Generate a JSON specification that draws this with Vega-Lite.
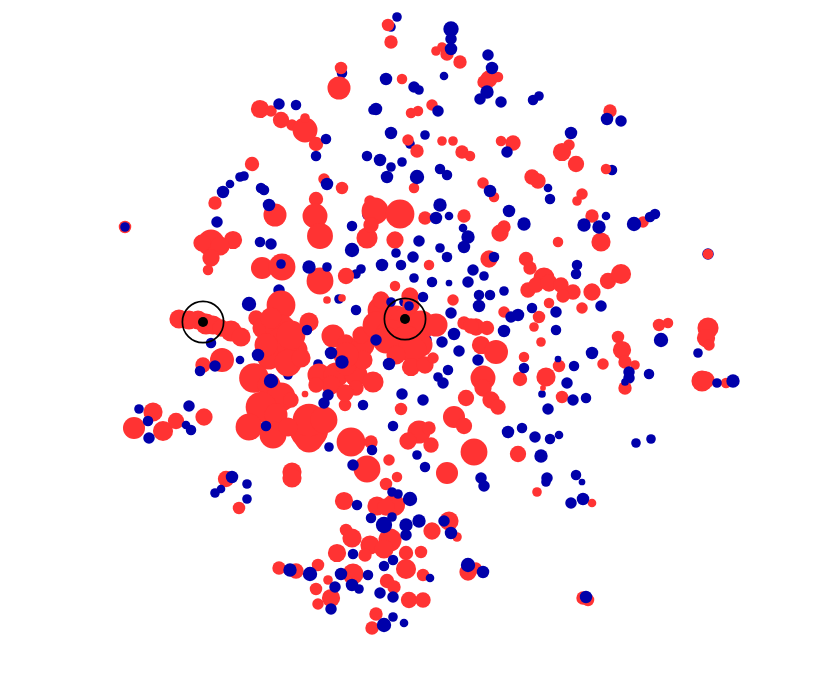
{"$schema":"https://vega.github.io/schema/vega-lite/v6.json","width":830,"height":675,"padding":0,"autosize":{"type":"none"},"background":"white","config":{"view":{"stroke":null}},
"layer":[
{"data":{"values":[
{"x":390,"y":27,"r":5,"g":"b"},{"x":341,"y":73,"r":5.5,"g":"b"},{"x":409,"y":144,"r":5,"g":"b"},{"x":366,"y":215,"r":5,"g":"b"},{"x":707,"y":254,"r":6,"g":"b"},{"x":611,"y":170,"r":5.5,"g":"b"},{"x":287,"y":375,"r":5,"g":"b"},{"x":355,"y":274,"r":5,"g":"b"},{"x":317,"y":364,"r":5,"g":"b"},{"x":278,"y":290,"r":6,"g":"b"},{"x":606,"y":119,"r":4,"g":"b"},{"x":541,"y":394,"r":4,"g":"b"},{"x":338,"y":299,"r":5,"g":"b"},{"x":425,"y":340,"r":6,"g":"b"},{"x":403,"y":302,"r":5,"g":"b"},{"x":628,"y":378,"r":6,"g":"b"},
{"x":124,"y":227,"r":6.5,"g":"a"},{"x":387,"y":25,"r":6.5,"g":"a"},{"x":390,"y":42,"r":7,"g":"a"},{"x":340,"y":68,"r":6.5,"g":"a"},{"x":338,"y":88,"r":12,"g":"a"},{"x":401,"y":79,"r":5.5,"g":"a"},{"x":259,"y":109,"r":9.5,"g":"a"},{"x":270,"y":111,"r":6,"g":"a"},{"x":280,"y":120,"r":8.5,"g":"a"},{"x":291,"y":125,"r":6,"g":"a"},{"x":304,"y":130,"r":13,"g":"a"},{"x":304,"y":118,"r":5,"g":"a"},{"x":315,"y":144,"r":7.5,"g":"a"},{"x":407,"y":140,"r":6,"g":"a"},{"x":416,"y":151,"r":7,"g":"a"},{"x":410,"y":113,"r":5.5,"g":"a"},{"x":417,"y":111,"r":5.5,"g":"a"},{"x":251,"y":164,"r":7.5,"g":"a"},{"x":214,"y":203,"r":7,"g":"a"},{"x":274,"y":215,"r":12,"g":"a"},{"x":323,"y":179,"r":6,"g":"a"},{"x":341,"y":188,"r":6.5,"g":"a"},{"x":413,"y":188,"r":5.5,"g":"a"},{"x":315,"y":199,"r":7.5,"g":"a"},{"x":314,"y":216,"r":13,"g":"a"},{"x":319,"y":236,"r":13.5,"g":"a"},{"x":369,"y":201,"r":6,"g":"a"},{"x":374,"y":211,"r":14,"g":"a"},{"x":399,"y":214,"r":15,"g":"a"},{"x":366,"y":238,"r":11,"g":"a"},{"x":370,"y":225,"r":8,"g":"a"},{"x":394,"y":240,"r":9,"g":"a"},{"x":424,"y":218,"r":7,"g":"a"},
{"x":210,"y":243,"r":14,"g":"a"},{"x":232,"y":240,"r":9.5,"g":"a"},{"x":201,"y":243,"r":9,"g":"a"},{"x":219,"y":246,"r":10,"g":"a"},{"x":210,"y":258,"r":9,"g":"a"},{"x":207,"y":270,"r":5.5,"g":"a"},
{"x":261,"y":268,"r":11.5,"g":"a"},{"x":281,"y":267,"r":14,"g":"a"},{"x":319,"y":281,"r":14,"g":"a"},{"x":345,"y":276,"r":8.5,"g":"a"},{"x":428,"y":265,"r":5.5,"g":"a"},{"x":394,"y":286,"r":5.5,"g":"a"},{"x":409,"y":296,"r":9,"g":"a"},{"x":341,"y":298,"r":4,"g":"a"},{"x":326,"y":300,"r":4,"g":"a"},
{"x":280,"y":305,"r":15,"g":"a"},{"x":255,"y":318,"r":8,"g":"a"},{"x":308,"y":322,"r":10,"g":"a"},{"x":262,"y":328,"r":11,"g":"a"},{"x":280,"y":330,"r":16,"g":"a"},{"x":280,"y":345,"r":18,"g":"a"},{"x":268,"y":358,"r":12,"g":"a"},{"x":295,"y":350,"r":12,"g":"a"},{"x":287,"y":363,"r":14,"g":"a"},{"x":300,"y":358,"r":10,"g":"a"},{"x":290,"y":335,"r":15,"g":"a"},{"x":265,"y":345,"r":12,"g":"a"},{"x":270,"y":318,"r":11,"g":"a"},
{"x":178,"y":319,"r":10,"g":"a"},{"x":197,"y":320,"r":10,"g":"a"},{"x":188,"y":320,"r":10,"g":"a"},{"x":205,"y":324,"r":11,"g":"a"},{"x":212,"y":325,"r":10,"g":"a"},{"x":220,"y":328,"r":9,"g":"a"},{"x":230,"y":331,"r":11,"g":"a"},{"x":240,"y":337,"r":10,"g":"a"},{"x":202,"y":365,"r":8,"g":"a"},{"x":221,"y":360,"r":12.5,"g":"a"},
{"x":253,"y":378,"r":15.5,"g":"a"},{"x":268,"y":385,"r":12,"g":"a"},{"x":280,"y":397,"r":15,"g":"a"},{"x":290,"y":400,"r":8,"g":"a"},{"x":260,"y":407,"r":16,"g":"a"},{"x":275,"y":415,"r":12,"g":"a"},{"x":248,"y":427,"r":14,"g":"a"},{"x":272,"y":435,"r":14,"g":"a"},{"x":308,"y":430,"r":20,"g":"a"},{"x":308,"y":438,"r":15,"g":"a"},{"x":308,"y":420,"r":17,"g":"a"},{"x":323,"y":420,"r":14,"g":"a"},{"x":287,"y":427,"r":10,"g":"a"},{"x":350,"y":442,"r":15,"g":"a"},{"x":370,"y":442,"r":7,"g":"a"},{"x":366,"y":469,"r":14,"g":"a"},{"x":388,"y":460,"r":6,"g":"a"},{"x":396,"y":477,"r":5.5,"g":"a"},
{"x":133,"y":428,"r":11.5,"g":"a"},{"x":152,"y":412,"r":10,"g":"a"},{"x":162,"y":431,"r":10.5,"g":"a"},{"x":175,"y":421,"r":8.5,"g":"a"},{"x":203,"y":417,"r":9,"g":"a"},
{"x":332,"y":336,"r":12,"g":"a"},{"x":345,"y":343,"r":9,"g":"a"},{"x":362,"y":345,"r":12,"g":"a"},{"x":360,"y":335,"r":9,"g":"a"},{"x":318,"y":375,"r":12,"g":"a"},{"x":335,"y":375,"r":13,"g":"a"},{"x":355,"y":375,"r":12,"g":"a"},{"x":372,"y":382,"r":11,"g":"a"},{"x":345,"y":365,"r":11,"g":"a"},{"x":362,"y":360,"r":10,"g":"a"},{"x":345,"y":355,"r":13,"g":"a"},{"x":330,"y":385,"r":10,"g":"a"},{"x":355,"y":388,"r":8,"g":"a"},{"x":315,"y":385,"r":8,"g":"a"},{"x":344,"y":405,"r":6.5,"g":"a"},{"x":344,"y":393,"r":9,"g":"a"},{"x":304,"y":394,"r":3.5,"g":"a"},
{"x":380,"y":310,"r":14,"g":"a"},{"x":380,"y":300,"r":9,"g":"a"},{"x":375,"y":325,"r":14,"g":"a"},{"x":395,"y":320,"r":15,"g":"a"},{"x":405,"y":325,"r":18,"g":"a"},{"x":390,"y":335,"r":16,"g":"a"},{"x":420,"y":325,"r":15,"g":"a"},{"x":405,"y":340,"r":15,"g":"a"},{"x":385,"y":340,"r":14,"g":"a"},{"x":420,"y":345,"r":12,"g":"a"},{"x":410,"y":305,"r":9,"g":"a"},{"x":435,"y":325,"r":12,"g":"a"},{"x":412,"y":350,"r":14,"g":"a"},{"x":395,"y":355,"r":10,"g":"a"},{"x":410,"y":367,"r":9.5,"g":"a"},{"x":424,"y":365,"r":9,"g":"a"},{"x":432,"y":358,"r":6,"g":"a"},{"x":400,"y":409,"r":6.5,"g":"a"},{"x":418,"y":432,"r":12,"g":"a"},{"x":407,"y":441,"r":9,"g":"a"},{"x":430,"y":445,"r":8,"g":"a"},{"x":428,"y":428,"r":7,"g":"a"},{"x":453,"y":417,"r":11.5,"g":"a"},{"x":463,"y":426,"r":8.5,"g":"a"},{"x":473,"y":452,"r":14,"g":"a"},{"x":446,"y":473,"r":11.5,"g":"a"},
{"x":499,"y":233,"r":9,"g":"a"},{"x":503,"y":227,"r":7,"g":"a"},{"x":557,"y":242,"r":5.5,"g":"a"},{"x":600,"y":242,"r":10,"g":"a"},{"x":488,"y":259,"r":9,"g":"a"},{"x":525,"y":259,"r":7.5,"g":"a"},{"x":529,"y":268,"r":7,"g":"a"},{"x":543,"y":278,"r":11,"g":"a"},{"x":527,"y":290,"r":8,"g":"a"},{"x":535,"y":285,"r":8,"g":"a"},{"x":548,"y":283,"r":9,"g":"a"},{"x":560,"y":285,"r":8,"g":"a"},{"x":572,"y":292,"r":8,"g":"a"},{"x":562,"y":296,"r":7,"g":"a"},{"x":548,"y":303,"r":5.5,"g":"a"},{"x":591,"y":292,"r":9,"g":"a"},{"x":607,"y":281,"r":8.5,"g":"a"},{"x":620,"y":274,"r":10.5,"g":"a"},{"x":581,"y":308,"r":6,"g":"a"},{"x":707,"y":254,"r":5.5,"g":"a"},
{"x":452,"y":300,"r":6,"g":"a"},{"x":463,"y":323,"r":7,"g":"a"},{"x":475,"y":327,"r":9,"g":"a"},{"x":470,"y":326,"r":8,"g":"a"},{"x":486,"y":328,"r":7.5,"g":"a"},{"x":503,"y":312,"r":6,"g":"a"},{"x":538,"y":317,"r":6.5,"g":"a"},{"x":533,"y":327,"r":5,"g":"a"},{"x":540,"y":342,"r":5,"g":"a"},{"x":480,"y":345,"r":9.5,"g":"a"},{"x":495,"y":352,"r":12.5,"g":"a"},{"x":523,"y":357,"r":5.5,"g":"a"},{"x":519,"y":379,"r":7.5,"g":"a"},{"x":558,"y":366,"r":6.5,"g":"a"},{"x":545,"y":377,"r":10,"g":"a"},{"x":602,"y":364,"r":6,"g":"a"},{"x":542,"y":388,"r":3,"g":"a"},{"x":561,"y":397,"r":6.5,"g":"a"},{"x":617,"y":337,"r":6.5,"g":"a"},{"x":621,"y":350,"r":9.5,"g":"a"},{"x":624,"y":362,"r":7,"g":"a"},{"x":634,"y":365,"r":5,"g":"a"},{"x":658,"y":325,"r":6.5,"g":"a"},{"x":667,"y":323,"r":5.5,"g":"a"},{"x":707,"y":328,"r":11,"g":"a"},{"x":705,"y":338,"r":9.5,"g":"a"},{"x":708,"y":345,"r":6,"g":"a"},{"x":701,"y":381,"r":11,"g":"a"},{"x":705,"y":380,"r":9,"g":"a"},{"x":725,"y":383,"r":5.5,"g":"a"},
{"x":482,"y":378,"r":13,"g":"a"},{"x":482,"y":388,"r":9,"g":"a"},{"x":465,"y":398,"r":8.5,"g":"a"},{"x":490,"y":400,"r":9,"g":"a"},{"x":497,"y":407,"r":8,"g":"a"},{"x":517,"y":454,"r":8.5,"g":"a"},
{"x":225,"y":479,"r":8.5,"g":"a"},{"x":238,"y":508,"r":6.5,"g":"a"},{"x":291,"y":472,"r":10,"g":"a"},{"x":291,"y":478,"r":10,"g":"a"},{"x":385,"y":484,"r":6.5,"g":"a"},{"x":536,"y":492,"r":5,"g":"a"},{"x":591,"y":503,"r":4.5,"g":"a"},{"x":343,"y":501,"r":9.5,"g":"a"},{"x":376,"y":506,"r":10,"g":"a"},{"x":393,"y":505,"r":11.5,"g":"a"},{"x":385,"y":507,"r":9,"g":"a"},{"x":431,"y":531,"r":9,"g":"a"},{"x":448,"y":521,"r":10,"g":"a"},{"x":456,"y":537,"r":5,"g":"a"},{"x":345,"y":530,"r":6.5,"g":"a"},{"x":351,"y":538,"r":10,"g":"a"},{"x":369,"y":545,"r":10,"g":"a"},{"x":389,"y":540,"r":12,"g":"a"},{"x":383,"y":549,"r":10,"g":"a"},{"x":336,"y":553,"r":9.5,"g":"a"},{"x":364,"y":555,"r":7,"g":"a"},{"x":405,"y":553,"r":7.5,"g":"a"},{"x":420,"y":552,"r":6.5,"g":"a"},{"x":405,"y":569,"r":10.5,"g":"a"},{"x":422,"y":575,"r":6.5,"g":"a"},{"x":352,"y":574,"r":11,"g":"a"},{"x":295,"y":571,"r":8,"g":"a"},{"x":278,"y":568,"r":7,"g":"a"},{"x":317,"y":565,"r":6.5,"g":"a"},{"x":327,"y":580,"r":5,"g":"a"},{"x":315,"y":589,"r":6.5,"g":"a"},{"x":330,"y":598,"r":9.5,"g":"a"},{"x":317,"y":604,"r":6,"g":"a"},{"x":386,"y":581,"r":7.5,"g":"a"},{"x":393,"y":587,"r":7,"g":"a"},{"x":408,"y":600,"r":8.5,"g":"a"},{"x":422,"y":600,"r":8,"g":"a"},{"x":375,"y":614,"r":7,"g":"a"},{"x":371,"y":628,"r":7,"g":"a"},{"x":467,"y":572,"r":9,"g":"a"},{"x":475,"y":568,"r":6,"g":"a"},{"x":582,"y":598,"r":7,"g":"a"},{"x":587,"y":600,"r":6.5,"g":"a"},
{"x":435,"y":51,"r":5,"g":"a"},{"x":441,"y":47,"r":5,"g":"a"},{"x":446,"y":54,"r":7,"g":"a"},{"x":459,"y":62,"r":7,"g":"a"},{"x":488,"y":79,"r":9,"g":"a"},{"x":497,"y":77,"r":5.5,"g":"a"},{"x":483,"y":82,"r":7,"g":"a"},{"x":431,"y":105,"r":6,"g":"a"},{"x":609,"y":111,"r":7,"g":"a"},{"x":568,"y":145,"r":6,"g":"a"},{"x":561,"y":152,"r":9.5,"g":"a"},{"x":575,"y":164,"r":8.5,"g":"a"},{"x":605,"y":169,"r":5.5,"g":"a"},{"x":441,"y":141,"r":5,"g":"a"},{"x":452,"y":141,"r":5,"g":"a"},{"x":461,"y":152,"r":7,"g":"a"},{"x":469,"y":156,"r":5.5,"g":"a"},{"x":500,"y":141,"r":5.5,"g":"a"},{"x":512,"y":143,"r":8,"g":"a"},{"x":482,"y":183,"r":6,"g":"a"},{"x":493,"y":197,"r":5.5,"g":"a"},{"x":531,"y":177,"r":8,"g":"a"},{"x":537,"y":181,"r":8,"g":"a"},{"x":581,"y":194,"r":6,"g":"a"},{"x":576,"y":201,"r":5,"g":"a"},{"x":591,"y":216,"r":7,"g":"a"},{"x":463,"y":216,"r":7,"g":"a"},{"x":642,"y":222,"r":6,"g":"a"},
{"x":124,"y":227,"r":5,"g":"b"},{"x":396,"y":17,"r":5,"g":"b"},{"x":385,"y":79,"r":6.5,"g":"b"},{"x":413,"y":87,"r":6,"g":"b"},{"x":418,"y":90,"r":5,"g":"b"},{"x":375,"y":109,"r":6.5,"g":"b"},{"x":372,"y":110,"r":5,"g":"b"},{"x":278,"y":104,"r":6,"g":"b"},{"x":295,"y":105,"r":5.5,"g":"b"},{"x":325,"y":139,"r":5.5,"g":"b"},{"x":315,"y":156,"r":5.5,"g":"b"},{"x":390,"y":133,"r":6.5,"g":"b"},{"x":424,"y":135,"r":5,"g":"b"},{"x":243,"y":176,"r":5,"g":"b"},{"x":239,"y":177,"r":5,"g":"b"},{"x":229,"y":184,"r":4.5,"g":"b"},{"x":222,"y":192,"r":6.5,"g":"b"},{"x":260,"y":188,"r":5.5,"g":"b"},{"x":263,"y":190,"r":5.5,"g":"b"},{"x":268,"y":205,"r":6.5,"g":"b"},{"x":326,"y":184,"r":6.5,"g":"b"},{"x":366,"y":156,"r":5.5,"g":"b"},{"x":379,"y":160,"r":6.5,"g":"b"},{"x":390,"y":167,"r":5,"g":"b"},{"x":401,"y":162,"r":5,"g":"b"},{"x":386,"y":177,"r":6.5,"g":"b"},{"x":416,"y":177,"r":7.5,"g":"b"},{"x":351,"y":226,"r":5.5,"g":"b"},{"x":216,"y":222,"r":6,"g":"b"},
{"x":259,"y":242,"r":5.5,"g":"b"},{"x":270,"y":244,"r":6,"g":"b"},{"x":280,"y":264,"r":5,"g":"b"},{"x":308,"y":267,"r":7,"g":"b"},{"x":326,"y":267,"r":5,"g":"b"},{"x":360,"y":269,"r":5,"g":"b"},{"x":351,"y":250,"r":7.5,"g":"b"},{"x":381,"y":265,"r":6.5,"g":"b"},{"x":400,"y":265,"r":5.5,"g":"b"},{"x":412,"y":257,"r":6,"g":"b"},{"x":413,"y":278,"r":5,"g":"b"},{"x":395,"y":253,"r":5,"g":"b"},{"x":418,"y":241,"r":6,"g":"b"},{"x":422,"y":297,"r":5.5,"g":"b"},{"x":408,"y":306,"r":5,"g":"b"},{"x":390,"y":302,"r":5,"g":"b"},{"x":355,"y":310,"r":5.5,"g":"b"},{"x":248,"y":304,"r":7.5,"g":"b"},{"x":306,"y":330,"r":5.5,"g":"b"},{"x":210,"y":343,"r":5.5,"g":"b"},{"x":214,"y":366,"r":6,"g":"b"},{"x":199,"y":371,"r":5.5,"g":"b"},{"x":239,"y":360,"r":4.5,"g":"b"},{"x":257,"y":355,"r":6.5,"g":"b"},{"x":270,"y":381,"r":7.5,"g":"b"},{"x":265,"y":426,"r":5.5,"g":"b"},{"x":328,"y":447,"r":5,"g":"b"},{"x":371,"y":450,"r":5.5,"g":"b"},{"x":352,"y":465,"r":6,"g":"b"},{"x":147,"y":421,"r":5.5,"g":"b"},{"x":138,"y":409,"r":5,"g":"b"},{"x":148,"y":438,"r":6,"g":"b"},{"x":188,"y":406,"r":6,"g":"b"},{"x":185,"y":425,"r":4.5,"g":"b"},{"x":190,"y":430,"r":5.5,"g":"b"},
{"x":330,"y":353,"r":6.5,"g":"b"},{"x":341,"y":362,"r":7,"g":"b"},{"x":327,"y":395,"r":6,"g":"b"},{"x":323,"y":403,"r":6,"g":"b"},{"x":362,"y":405,"r":5.5,"g":"b"},{"x":375,"y":340,"r":6,"g":"b"},{"x":388,"y":364,"r":6.5,"g":"b"},{"x":401,"y":394,"r":6,"g":"b"},{"x":422,"y":400,"r":6,"g":"b"},{"x":392,"y":426,"r":5.5,"g":"b"},{"x":416,"y":455,"r":5,"g":"b"},{"x":424,"y":467,"r":5.5,"g":"b"},
{"x":467,"y":237,"r":7,"g":"b"},{"x":463,"y":247,"r":6.5,"g":"b"},{"x":439,"y":248,"r":5,"g":"b"},{"x":446,"y":257,"r":5.5,"g":"b"},{"x":493,"y":257,"r":5.5,"g":"b"},{"x":472,"y":270,"r":6,"g":"b"},{"x":483,"y":276,"r":5,"g":"b"},{"x":467,"y":282,"r":6,"g":"b"},{"x":448,"y":283,"r":3.5,"g":"b"},{"x":431,"y":282,"r":5.5,"g":"b"},{"x":576,"y":265,"r":5.5,"g":"b"},{"x":575,"y":274,"r":5.5,"g":"b"},{"x":600,"y":306,"r":6,"g":"b"},{"x":478,"y":295,"r":5.5,"g":"b"},{"x":489,"y":295,"r":5.5,"g":"b"},{"x":503,"y":291,"r":5,"g":"b"},{"x":478,"y":306,"r":6.5,"g":"b"},{"x":450,"y":313,"r":6,"g":"b"},{"x":453,"y":334,"r":6.5,"g":"b"},{"x":441,"y":342,"r":6,"g":"b"},{"x":458,"y":351,"r":6,"g":"b"},{"x":477,"y":360,"r":6,"g":"b"},{"x":510,"y":317,"r":6,"g":"b"},{"x":517,"y":315,"r":6.5,"g":"b"},{"x":503,"y":331,"r":6.5,"g":"b"},{"x":531,"y":308,"r":5.5,"g":"b"},{"x":555,"y":312,"r":6,"g":"b"},{"x":555,"y":330,"r":5.5,"g":"b"},{"x":523,"y":368,"r":5.5,"g":"b"},{"x":557,"y":359,"r":3.5,"g":"b"},{"x":573,"y":366,"r":5.5,"g":"b"},{"x":591,"y":353,"r":6.5,"g":"b"},{"x":566,"y":383,"r":6,"g":"b"},{"x":547,"y":409,"r":6,"g":"b"},{"x":572,"y":400,"r":6,"g":"b"},{"x":585,"y":398,"r":5.5,"g":"b"},{"x":628,"y":372,"r":6,"g":"b"},{"x":648,"y":374,"r":5.5,"g":"b"},{"x":660,"y":340,"r":7.5,"g":"b"},{"x":697,"y":353,"r":5,"g":"b"},{"x":716,"y":383,"r":5,"g":"b"},{"x":732,"y":381,"r":7,"g":"b"},{"x":447,"y":370,"r":5.5,"g":"b"},{"x":437,"y":377,"r":5,"g":"b"},{"x":442,"y":383,"r":6,"g":"b"},{"x":507,"y":432,"r":6.5,"g":"b"},{"x":521,"y":428,"r":5.5,"g":"b"},{"x":534,"y":437,"r":6,"g":"b"},{"x":549,"y":439,"r":5.5,"g":"b"},{"x":558,"y":435,"r":4.5,"g":"b"},{"x":540,"y":456,"r":7,"g":"b"},{"x":635,"y":443,"r":5,"g":"b"},{"x":650,"y":439,"r":5,"g":"b"},
{"x":231,"y":477,"r":6.5,"g":"b"},{"x":246,"y":484,"r":5,"g":"b"},{"x":220,"y":489,"r":4.5,"g":"b"},{"x":214,"y":493,"r":5,"g":"b"},{"x":246,"y":499,"r":5,"g":"b"},{"x":480,"y":478,"r":6,"g":"b"},{"x":483,"y":486,"r":6,"g":"b"},{"x":546,"y":478,"r":6,"g":"b"},{"x":545,"y":482,"r":5,"g":"b"},{"x":575,"y":475,"r":5.5,"g":"b"},{"x":581,"y":482,"r":3.5,"g":"b"},{"x":582,"y":499,"r":6.5,"g":"b"},{"x":570,"y":503,"r":6,"g":"b"},{"x":356,"y":505,"r":5.5,"g":"b"},{"x":391,"y":492,"r":5,"g":"b"},{"x":397,"y":494,"r":5,"g":"b"},{"x":409,"y":499,"r":7.5,"g":"b"},{"x":370,"y":518,"r":5.5,"g":"b"},{"x":391,"y":517,"r":5,"g":"b"},{"x":383,"y":525,"r":8.5,"g":"b"},{"x":405,"y":525,"r":7,"g":"b"},{"x":405,"y":535,"r":6,"g":"b"},{"x":418,"y":521,"r":7,"g":"b"},{"x":443,"y":521,"r":6,"g":"b"},{"x":450,"y":533,"r":6.5,"g":"b"},{"x":352,"y":554,"r":5.5,"g":"b"},{"x":392,"y":560,"r":5.5,"g":"b"},{"x":383,"y":566,"r":5.5,"g":"b"},{"x":429,"y":578,"r":4.5,"g":"b"},{"x":340,"y":574,"r":6.5,"g":"b"},{"x":367,"y":575,"r":5.5,"g":"b"},{"x":309,"y":574,"r":7.5,"g":"b"},{"x":289,"y":570,"r":7,"g":"b"},{"x":334,"y":587,"r":6,"g":"b"},{"x":330,"y":609,"r":6,"g":"b"},{"x":351,"y":585,"r":6.5,"g":"b"},{"x":358,"y":589,"r":5,"g":"b"},{"x":379,"y":593,"r":6,"g":"b"},{"x":392,"y":597,"r":6,"g":"b"},{"x":392,"y":617,"r":5,"g":"b"},{"x":403,"y":623,"r":4.5,"g":"b"},{"x":383,"y":625,"r":7.5,"g":"b"},{"x":467,"y":565,"r":7.5,"g":"b"},{"x":482,"y":572,"r":6.5,"g":"b"},{"x":585,"y":597,"r":6.5,"g":"b"},
{"x":450,"y":29,"r":8,"g":"b"},{"x":450,"y":39,"r":6,"g":"b"},{"x":450,"y":49,"r":6.5,"g":"b"},{"x":487,"y":55,"r":6,"g":"b"},{"x":491,"y":68,"r":6.5,"g":"b"},{"x":443,"y":76,"r":4.5,"g":"b"},{"x":486,"y":92,"r":7,"g":"b"},{"x":479,"y":99,"r":6,"g":"b"},{"x":500,"y":102,"r":6,"g":"b"},{"x":532,"y":100,"r":5.5,"g":"b"},{"x":538,"y":96,"r":5,"g":"b"},{"x":437,"y":111,"r":6,"g":"b"},{"x":606,"y":119,"r":6.5,"g":"b"},{"x":620,"y":121,"r":6,"g":"b"},{"x":570,"y":133,"r":6.5,"g":"b"},{"x":506,"y":152,"r":6,"g":"b"},{"x":439,"y":169,"r":5.5,"g":"b"},{"x":446,"y":175,"r":5.5,"g":"b"},{"x":489,"y":191,"r":6.5,"g":"b"},{"x":547,"y":188,"r":4.5,"g":"b"},{"x":549,"y":199,"r":5.5,"g":"b"},{"x":605,"y":216,"r":4.5,"g":"b"},{"x":583,"y":225,"r":7,"g":"b"},{"x":598,"y":227,"r":7,"g":"b"},{"x":508,"y":211,"r":6.5,"g":"b"},{"x":523,"y":224,"r":7,"g":"b"},{"x":435,"y":218,"r":6.5,"g":"b"},{"x":448,"y":216,"r":4.5,"g":"b"},{"x":439,"y":205,"r":7,"g":"b"},{"x":462,"y":228,"r":4.5,"g":"b"},{"x":633,"y":224,"r":7.5,"g":"b"},{"x":649,"y":217,"r":5.5,"g":"b"},{"x":654,"y":214,"r":5.5,"g":"b"},
{"x":624,"y":388,"r":7,"g":"a"},{"x":624,"y":382,"r":4,"g":"b"}
]},
"mark":{"type":"circle","opacity":1},
"encoding":{"x":{"field":"x","type":"quantitative","scale":{"domain":[-1,829],"nice":false,"zero":false},"axis":null},"y":{"field":"y","type":"quantitative","scale":{"domain":[675,0],"nice":false,"zero":false},"axis":null},"size":{"field":"r","type":"quantitative","scale":{"type":"pow","exponent":2,"domain":[0,25],"range":[0,2300]},"legend":null},"color":{"field":"g","type":"nominal","scale":{"domain":["a","b"],"range":["#FF3333","#0000AA"]},"legend":null}}},
{"data":{"values":[{"x":202,"y":322,"r":5.2},{"x":404,"y":319,"r":5.2}]},"mark":{"type":"circle","color":"black","opacity":1},
"encoding":{"x":{"field":"x","type":"quantitative","axis":null},"y":{"field":"y","type":"quantitative","axis":null},"size":{"field":"r","type":"quantitative","legend":null}}},
{"data":{"values":[{"x":202,"y":322,"r":21.5},{"x":404,"y":319,"r":21.5}]},"mark":{"type":"point","filled":false,"shape":"circle","stroke":"black","strokeWidth":1.7,"opacity":1},
"encoding":{"x":{"field":"x","type":"quantitative","axis":null},"y":{"field":"y","type":"quantitative","axis":null},"size":{"field":"r","type":"quantitative","legend":null}}}
]}
